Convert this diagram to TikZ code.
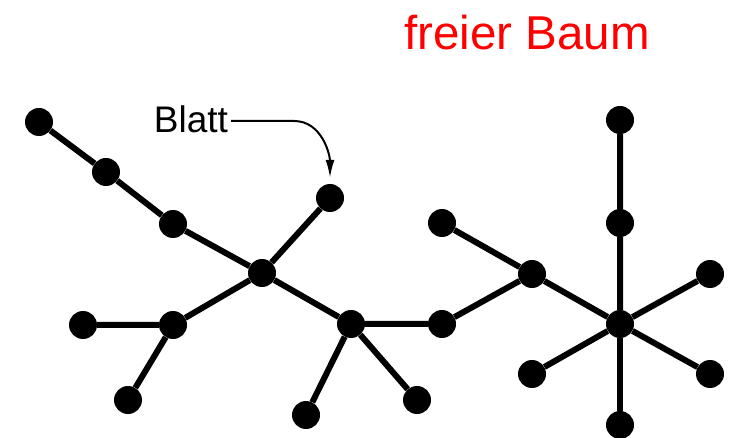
\documentclass[tikz,border=0pt]{standalone}
\usepackage{fontspec}
\setmainfont{Liberation Sans}
\usetikzlibrary{arrows.meta}

\begin{document}
\begin{tikzpicture}[x=1pt,y=-1pt,
    dot/.style={circle,fill=black,inner sep=0pt,minimum size=28pt},
    branch/.style={line width=6pt}]
  \useasboundingbox (0,0) rectangle (731,438);
  \node[text=red,font=\fontsize{47.5}{50}\selectfont,anchor=base] (title) at (527,50) {freier Baum};
  % left part
  \node[dot] (a) at (39,122) {};
  \node[dot] (b) at (106,172) {};
  \node[dot] (c) at (173,224) {};
  \node[dot] (d) at (262,273) {};
  \node[dot] (leaf) at (330,198) {};
  \node[dot] (e) at (173,325) {};
  \node[dot] (f) at (83,325) {};
  \node[dot] (g) at (128,400) {};
  % middle part
  \node[dot] (h) at (351,324) {};
  \node[dot] (i) at (306,415) {};
  \node[dot] (j) at (417,400) {};
  \node[dot] (k) at (442,324) {};
  \node[dot] (l) at (532,274) {};
  \node[dot] (m) at (442,223) {};
  % star
  \node[dot] (n) at (620,324) {};
  \node[dot] (o) at (620,223) {};
  \node[dot] (p) at (620,120) {};
  \node[dot] (q) at (710,274) {};
  \node[dot] (r) at (710,374) {};
  \node[dot] (s) at (620,425) {};
  \node[dot] (t) at (532,374) {};
  \draw[branch] (a) -- (b) -- (c) -- (d) -- (leaf);
  \draw[branch] (d) -- (e) -- (f);
  \draw[branch] (e) -- (g);
  \draw[branch] (d) -- (h) -- (i);
  \draw[branch] (h) -- (j);
  \draw[branch] (h) -- (k) -- (l) -- (m);
  \draw[branch] (l) -- (n) -- (o) -- (p);
  \draw[branch] (n) -- (q);
  \draw[branch] (n) -- (r);
  \draw[branch] (n) -- (s);
  \draw[branch] (n) -- (t);
  % label
  \node[font=\fontsize{37}{40}\selectfont,anchor=base,inner sep=3pt] (blatt) at (191,133) {Blatt};
  \coordinate (bend) at (294,121);
  \draw[line width=2pt,-{Latex[length=18pt,width=9pt]},shorten >=6pt]
    (blatt.east |- bend) -- (bend) to[out=0,in=90] (leaf.north);
\end{tikzpicture}
\end{document}
